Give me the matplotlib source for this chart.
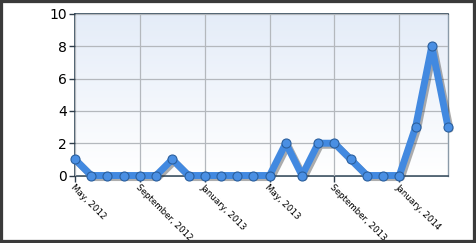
import numpy as np
import matplotlib.pyplot as plt
import matplotlib.patheffects as pe
from matplotlib.patches import Rectangle

# monthly counts, May 2012 .. April 2014
months = ["May 2012", "Jun 2012", "Jul 2012", "Aug 2012", "Sep 2012", "Oct 2012",
          "Nov 2012", "Dec 2012", "Jan 2013", "Feb 2013", "Mar 2013", "Apr 2013",
          "May 2013", "Jun 2013", "Jul 2013", "Aug 2013", "Sep 2013", "Oct 2013",
          "Nov 2013", "Dec 2013", "Jan 2014", "Feb 2014", "Mar 2014", "Apr 2014"]
counts = [1, 0, 0, 0, 0, 0, 1, 0, 0, 0, 0, 0, 0, 2, 0, 2, 2, 1, 0, 0, 0, 3, 8, 3]
tick_idx = [0, 4, 8, 12, 16, 20]
tick_labels = ["May, 2012", "September, 2012", "January, 2013",
               "May, 2013", "September, 2013", "January, 2014"]
y_ticks = [0, 2, 4, 6, 8, 10]

W, H = 476, 243
fig = plt.figure(figsize=(W / 100, H / 100), dpi=100)
ax = fig.add_axes([75 / W, 1 - 175.5 / H, (448 - 75) / W, (175.5 - 14) / H])

x = np.arange(len(counts))
ax.set_xlim(0, len(counts) - 1)
ax.set_ylim(0, 10)

# background gradient, light blue at top to white
grad = np.linspace(0, 1, 256).reshape(-1, 1)
ax.imshow(grad, extent=[0, len(counts) - 1, 0, 10], aspect="auto",
          cmap=plt.matplotlib.colors.LinearSegmentedColormap.from_list(
              "bg", ["#ffffff", "#e4ecf8"]),
          origin="lower", zorder=0)

ax.grid(True, color="#b4b8bd", linewidth=0.9, zorder=1)
ax.set_axisbelow(False)

ax.plot(x, counts, color="#4289e0", linewidth=5, solid_joinstyle="round",
        solid_capstyle="round", zorder=3, clip_on=False,
        path_effects=[pe.SimpleLineShadow(offset=(1.5, -1.5), shadow_color="#333333", alpha=0.4),
                      pe.Normal()])
ax.plot(x, counts, linestyle="none", marker="o", markersize=6.5,
        markerfacecolor="#4a8fe3", markeredgecolor="#2a5f9e", markeredgewidth=0.8,
        zorder=4, clip_on=False)

ax.set_xticks(tick_idx)
ax.set_xticklabels(tick_labels, rotation=-45, ha="left", va="top",
                   rotation_mode="anchor", fontsize=6.3)
ax.set_yticks(y_ticks)
ax.set_yticklabels([str(v) for v in y_ticks], fontsize=10)
ax.tick_params(axis="both", direction="out", length=4, width=1, color="#2f3d4a", pad=2)
ax.tick_params(axis="x", pad=1)
for lbl in ax.get_xticklabels():
    lbl.set_x(lbl.get_position()[0])

for side in ["left", "bottom", "top"]:
    ax.spines[side].set_color("#34495a")
    ax.spines[side].set_linewidth(1.2)
ax.spines["right"].set_color("#8a9aa8")
ax.spines["right"].set_linewidth(1.0)

# outer dark frame
fig.patches.append(Rectangle((0, 0), 1, 1, transform=fig.transFigure, fill=False,
                             edgecolor="#3a3a3a", linewidth=4.5))

fig.savefig("out.png", dpi=100)
